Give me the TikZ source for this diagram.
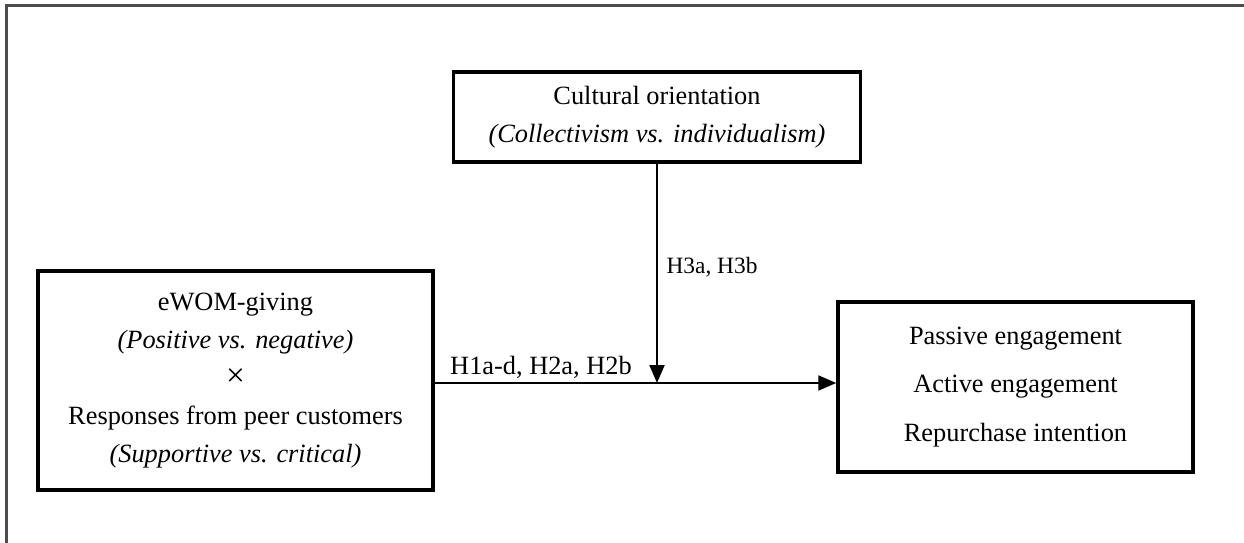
\documentclass[tikz,border=0pt]{standalone}
\usepackage{fontspec}
\setmainfont{Liberation Serif}
\usetikzlibrary{arrows.meta}

\tikzset{
  varbox/.style={draw, line width=2pt, align=center, inner sep=0pt,
    font=\fontsize{15}{21.6}\selectfont},
  link/.style={line width=1.2pt, -{Triangle[length=0.36cm,width=0.3cm]}},
}

\begin{document}
\begin{tikzpicture}
      \useasboundingbox (0,0) rectangle (24.88,-10.86);
      % FRAME
      \draw[line width=1.5pt, black!70] (24.88,-0.11) -- (0.13,-0.11) -- (0.13,-10.86);

      % BOXES
      % moderator
      \node[varbox, minimum width=8.14cm, minimum height=1.8cm] (culture) at (13.14,-2.34)
        {Cultural orientation\\ \textit{(Collectivism vs. individualism)}};

      % independent variables
      \node[varbox, minimum width=7.9cm, minimum height=4.38cm] (ewom) at (4.71,-7.61)
        {eWOM-giving\\ \textit{(Positive vs. negative)}\\ {\fontsize{19}{21.6}\selectfont ×}\\
         Responses from peer customers\\ \textit{(Supportive vs. critical)}};

      % dependent variables
      \node[varbox, minimum width=7.1cm, minimum height=3.4cm] (outcome) at (20.31,-7.74)
        {Passive engagement\\[6pt] Active engagement\\[6pt] Repurchase intention};

      % ARROWS
      \coordinate (join) at (13.14,-7.66);
      \draw[link] (ewom.east |- join) -- (outcome.west |- join);
      \draw[link] (culture.south) -- (join);

      % HYPOTHESES
      \node[font=\fontsize{15}{18}\selectfont] (hmain) at (10.82,-7.34) {H1a-d, H2a, H2b};
      \node[font=\fontsize{13.3}{16}\selectfont] (hmod) at (14.24,-5.34) {H3a, H3b};
\end{tikzpicture}
\end{document}
